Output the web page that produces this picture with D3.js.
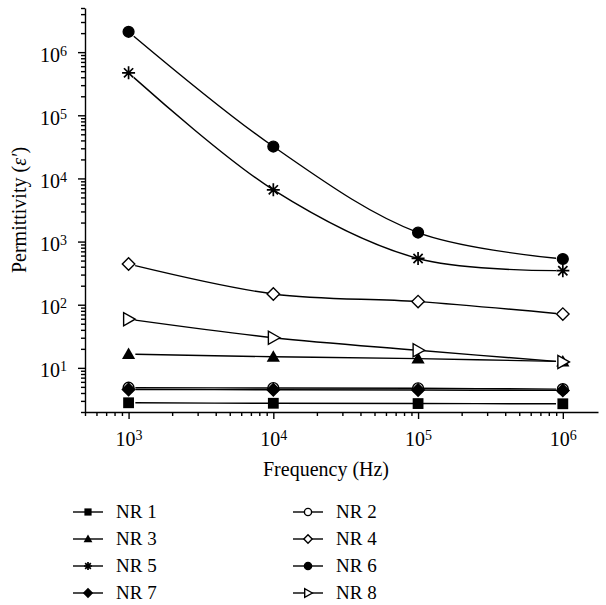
<!DOCTYPE html>
<html lang="en">
<head>
<meta charset="UTF-8">
<title>Permittivity vs frequency</title>
<style>
    body { margin: 0; background: #fff; }
    svg { display: block; }
    text { font-family: "Liberation Serif", "DejaVu Serif", serif; fill: #000; }
    .axis path, .axis line { stroke: #000; stroke-width: 1.4px; }
    .axis text { font-size: 20px; font-family: "Liberation Serif", serif; }
    .series { fill: none; stroke: #000; stroke-width: 1.4px; }
</style>
</head>
<body>
<svg width="606" height="605"></svg>
<script src="https://d3js.org/d3.v7.min.js"></script>
<script>
// frequencies (Hz) and permittivity for each sample
const frequencies = [1e3, 1e4, 1e5, 1e6];
const seriesNames = ["NR 1", "NR 2", "NR 3", "NR 4", "NR 5", "NR 6", "NR 7", "NR 8"];
const nr1 = [2.8, 2.75, 2.72, 2.7];
const nr2 = [4.85, 4.8, 4.75, 4.6];
const nr3 = [16.5, 15, 14, 12.6];
const nr4 = [440, 148, 112, 71];
const nr5 = [470000, 6600, 540, 346];
const nr6 = [2100000, 32000, 1390, 530];
const nr7 = [4.55, 4.5, 4.45, 4.4];
const nr8 = [59, 30, 19, 12.4];
const seriesValues = [nr1, nr2, nr3, nr4, nr5, nr6, nr7, nr8];
const markerTypes = ["square", "circleOpen", "triangle", "diamondOpen", "asterisk", "circle", "diamond", "triangleRightOpen"];
const xTickExps = [3, 4, 5, 6];
const yTickExps = [1, 2, 3, 4, 5, 6];

const svg = d3.select("svg");
const mLeft = 85, mRight = 598, mTop = 8, mBottom = 412;

const x = d3.scaleLog().domain([500, 1.75e6]).range([mLeft, mRight]);
const y = d3.scaleLog().domain([2, 5e6]).range([mBottom, mTop]);

// minor ticks: 2..9 in every decade inside domain
function minorTicks(scale) {
    const [a, b] = scale.domain();
    const out = [];
    for (let e = Math.floor(Math.log10(a)); e <= Math.ceil(Math.log10(b)); e++) {
        for (let m = 2; m <= 9; m++) {
            const v = m * Math.pow(10, e);
            if (v >= a && v <= b) out.push(v);
        }
    }
    return out;
}

function supLabel(sel) {
    sel.each(function(d) {
        const t = d3.select(this).text(null);
        t.append("tspan").text("10");
        t.append("tspan").attr("dy", "-0.42em").attr("font-size", "14px").text(Math.round(Math.log10(d)));
    });
}

// x axis
const gx = svg.append("g").attr("class", "axis").attr("transform", `translate(0,${mBottom})`);
gx.call(d3.axisBottom(x).tickValues(minorTicks(x)).tickSize(4).tickSizeOuter(0).tickFormat(""));
const gxMaj = svg.append("g").attr("class", "axis").attr("transform", `translate(0,${mBottom})`);
gxMaj.call(d3.axisBottom(x).tickValues(xTickExps.map(e => Math.pow(10, e))).tickSize(7).tickSizeOuter(0).tickPadding(13));
gxMaj.select(".domain").remove();
gxMaj.selectAll(".tick text").call(supLabel);

// y axis
const gy = svg.append("g").attr("class", "axis").attr("transform", `translate(${mLeft},0)`);
gy.call(d3.axisLeft(y).tickValues(minorTicks(y)).tickSize(4).tickSizeOuter(0).tickFormat(""));
const gyMaj = svg.append("g").attr("class", "axis").attr("transform", `translate(${mLeft},0)`);
gyMaj.call(d3.axisLeft(y).tickValues(yTickExps.map(e => Math.pow(10, e))).tickSize(7).tickSizeOuter(0).tickPadding(11));
gyMaj.select(".domain").remove();
gyMaj.selectAll(".tick text").call(supLabel).attr("dy", "0.45em");

// axis titles
svg.append("text")
    .attr("x", 326).attr("y", 476)
    .attr("text-anchor", "middle").attr("font-size", "20px")
    .text("Frequency (Hz)");

const yTitle = svg.append("text")
    .attr("transform", `translate(26,${(mTop + mBottom) / 2}) rotate(-90)`)
    .attr("text-anchor", "middle").attr("font-size", "20px");
yTitle.append("tspan").text("Permittivity (");
yTitle.append("tspan").attr("font-style", "italic").text("ε′");
yTitle.append("tspan").text(")");

// marker drawing
function drawMarker(g, type, s) {
    const filled = !/Open/.test(type);
    const fill = filled ? "#000" : "#fff";
    const sw = 1.4;
    if (type === "square") {
        g.append("rect").attr("x", -s * 0.45).attr("y", -s * 0.45).attr("width", s * 0.9).attr("height", s * 0.9).attr("fill", fill);
    } else if (type === "circle" || type === "circleOpen") {
        g.append("circle").attr("r", s * 0.45).attr("fill", fill).attr("stroke", "#000").attr("stroke-width", sw);
    } else if (type === "triangle") {
        const h = s * 0.55;
        g.append("path").attr("d", `M0,${-h}L${h},${h * 0.75}L${-h},${h * 0.75}Z`).attr("fill", fill);
    } else if (type === "diamond" || type === "diamondOpen") {
        const h = s * 0.52;
        g.append("path").attr("d", `M0,${-h}L${h},0L0,${h}L${-h},0Z`).attr("fill", fill).attr("stroke", "#000").attr("stroke-width", sw);
    } else if (type === "triangleRightOpen") {
        const h = s * 0.55;
        g.append("path").attr("d", `M${h},0L${-h * 0.75},${-h}L${-h * 0.75},${h}Z`).attr("fill", fill).attr("stroke", "#000").attr("stroke-width", sw);
    } else if (type === "asterisk") {
        const h = s * 0.5;
        const p = [];
        for (let i = 0; i < 4; i++) {
            const a = i * Math.PI / 4;
            p.push(`M${h * Math.cos(a)},${h * Math.sin(a)}L${-h * Math.cos(a)},${-h * Math.sin(a)}`);
        }
        g.append("path").attr("d", p.join("")).attr("stroke", "#000").attr("stroke-width", 1.7).attr("fill", "none");
    }
}

// lines: smooth, with a short gap at both ends like the original
const line = d3.line()
    .x(d => x(d[0]))
    .y(d => y(d[1]))
    .curve(d3.curveCatmullRom.alpha(0.5));

const endGap = 7;
const plot = svg.append("g");
seriesValues.forEach((vals, i) => {
    const p = plot.append("path")
        .attr("class", "series")
        .attr("d", line(frequencies.map((f, j) => [f, vals[j]])));
    const len = p.node().getTotalLength();
    p.attr("stroke-dasharray", `0,${endGap},${len - 2 * endGap},${endGap + 10}`);
});

// markers (draw order so NR 7 sits over NR 2)
seriesValues.forEach((vals, i) => {
    const size = markerTypes[i] === "asterisk" ? 13 : 12;
    frequencies.forEach((f, j) => {
        const g = plot.append("g").attr("transform", `translate(${x(f)},${y(vals[j])})`);
        drawMarker(g, markerTypes[i], size);
    });
});

// legend, two columns, row-major
const legendRows = [512, 539, 566, 593];
const legendCols = [73, 293];
seriesNames.forEach((name, i) => {
    const cx = legendCols[i % 2], cy = legendRows[Math.floor(i / 2)];
    const g = svg.append("g").attr("transform", `translate(${cx},${cy})`);
    g.append("line").attr("x1", 0).attr("x2", 30).attr("stroke", "#000").attr("stroke-width", 1.4);
    const m = g.append("g").attr("transform", "translate(15,0)");
    drawMarker(m, markerTypes[i], 8);
    g.append("text").attr("x", 43).attr("y", 6).attr("font-size", "19px").text(name);
});
</script>
</body>
</html>
